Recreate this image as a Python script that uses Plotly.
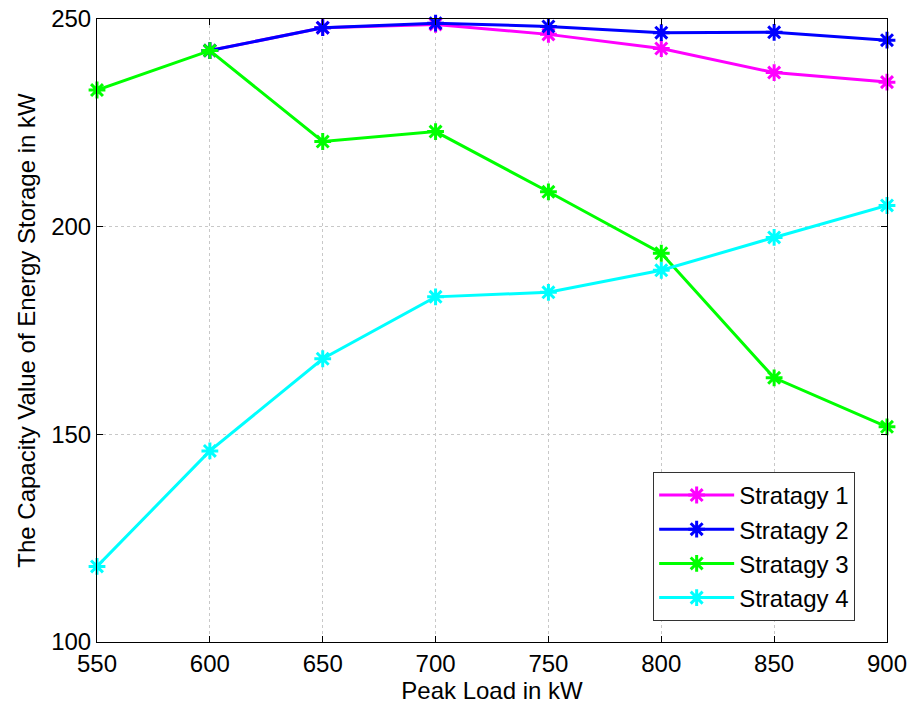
import plotly.graph_objects as go

peak_load = [550, 600, 650, 700, 750, 800, 850, 900]
stratagy_1 = [None, 242.4, 247.9, 248.7, 246.3, 242.9, 237.1, 234.8]
stratagy_2 = [None, 242.4, 247.9, 249.0, 248.2, 246.7, 246.8, 244.9]
stratagy_3 = [232.9, 242.4, 220.5, 222.9, 208.4, 193.6, 163.6, 151.8]
stratagy_4 = [118.2, 146.0, 168.2, 183.1, 184.2, 189.5, 197.4, 205.1]
series_names = ["Stratagy 1", "Stratagy 2", "Stratagy 3", "Stratagy 4"]
colors = ["#FF00FF", "#0000FF", "#00FF00", "#00FFFF"]
x_ticks = [550, 600, 650, 700, 750, 800, 850, 900]
y_ticks = [100, 150, 200, 250]

fig = go.Figure()
for name, vals, c in zip(series_names, [stratagy_1, stratagy_2, stratagy_3, stratagy_4], colors):
    fig.add_trace(go.Scatter(
        x=peak_load, y=vals, name=name, mode="lines+markers",
        line=dict(color=c, width=3),
        marker=dict(symbol="asterisk-open", size=14, color=c, line=dict(color=c, width=3)),
        cliponaxis=False,
    ))

font_family = "Liberation Sans, Arial, sans-serif"
axis_common = dict(
    showline=True, linecolor="black", linewidth=1, mirror="ticks",
    ticks="inside", ticklen=6, tickcolor="black",
    showgrid=True, gridcolor="#c8c8c8", griddash="dot", gridwidth=1,
    zeroline=False, automargin=False,
    tickfont=dict(family=font_family, size=24, color="black"),
)

fig.update_layout(
    width=918, height=706,
    margin=dict(l=97, r=31, t=19, b=64),
    paper_bgcolor="white", plot_bgcolor="white",
    font=dict(family=font_family, size=24, color="black"),
    xaxis=dict(range=[550, 900], tickvals=x_ticks,
               title=dict(text="Peak Load in kW", font=dict(size=24), standoff=2),
               **axis_common),
    yaxis=dict(range=[100, 250], tickvals=y_ticks,
               title=dict(text="The Capacity Value of Energy Storage in kW", font=dict(size=24), standoff=8),
               **axis_common),
    legend=dict(x=0.704, y=0.273, xanchor="left", yanchor="top",
                bgcolor="white", bordercolor="#333333", borderwidth=1,
                font=dict(family=font_family, size=24, color="black"),
                tracegroupgap=0, itemwidth=75),
    showlegend=True,
)

fig.write_html("out.html", config={"displayModeBar": False},
               post_script="document.body.style.margin='0';")
